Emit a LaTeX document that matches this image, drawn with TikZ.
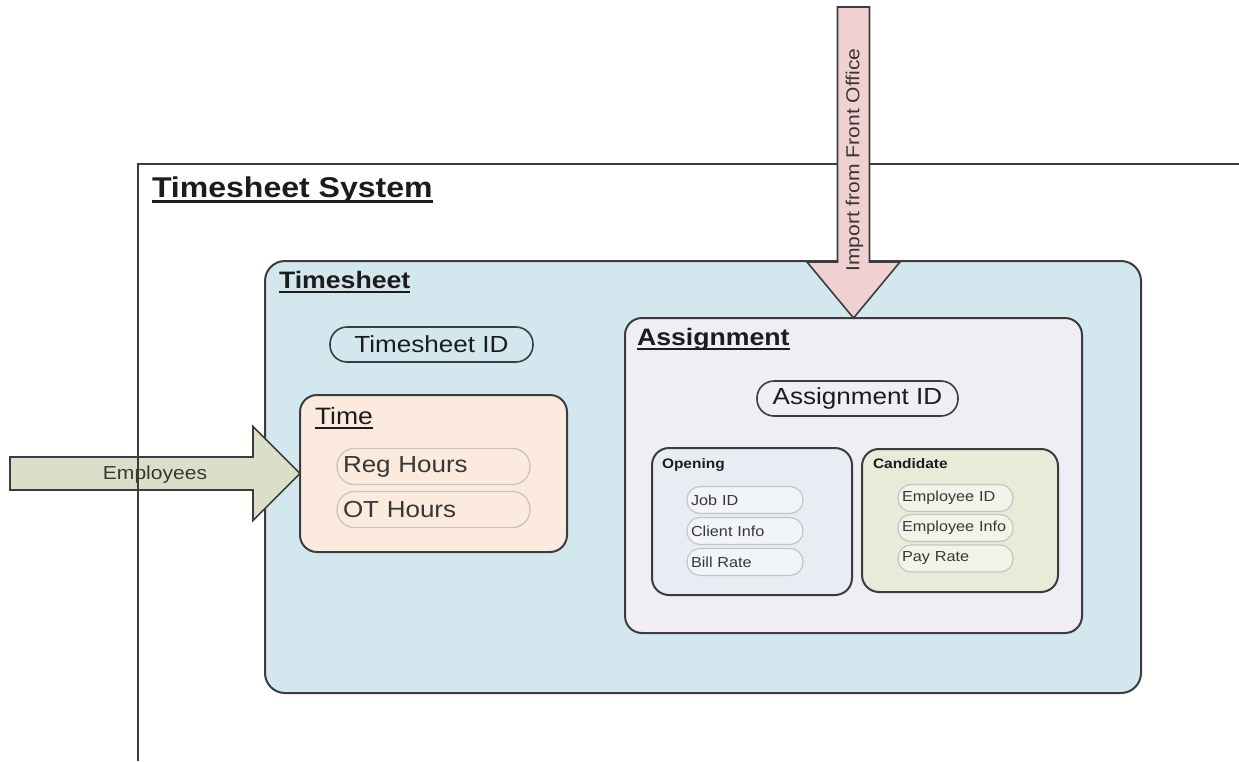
\documentclass[tikz,border=0pt]{standalone}
\usepackage{fontspec}
\setmainfont{Liberation Sans}[FakeStretch=1.12]
\usetikzlibrary{calc}

\definecolor{edge}{RGB}{58,60,62}
\definecolor{ink}{RGB}{28,28,28}
\definecolor{softink}{RGB}{55,55,55}
\definecolor{tsfill}{RGB}{210,232,238}
\definecolor{timefill}{RGB}{253,234,222}
\definecolor{assignfill}{RGB}{240,238,244}
\definecolor{openfill}{RGB}{232,237,244}
\definecolor{candfill}{RGB}{231,236,216}
\definecolor{pillline}{RGB}{200,196,194}
\definecolor{empfill}{RGB}{220,223,200}
\definecolor{impfill}{RGB}{240,208,208}

\newcommand\fs[1]{\fontsize{#1}{#1}\selectfont}
% underlined heading: #1 rule depth, #2 rule thickness, #3 text
\newcommand\ulbar[3]{\setbox0=\hbox{#3}\rlap{\rule[-#1]{\wd0}{#2}}\box0}

\tikzset{
  container/.style={draw=edge, line width=2pt, rounded corners=20pt,
    inner sep=0pt, outer sep=0pt},
  subbox/.style={container, rounded corners=17pt},
  keypill/.style={draw=edge, line width=1.6pt, rounded corners=17pt,
    minimum height=35pt, inner sep=0pt, outer sep=0pt, text=ink, font=\fs{23.3}},
  bigfield/.style={draw=pillline, line width=1.3pt, rounded corners=17.5pt,
    minimum height=36pt, inner xsep=6pt, inner ysep=0pt, text width=181pt,
    align=left, text=softink, font=\fs{23.2}},
  smallfield/.style={draw=pillline, line width=1.2pt, rounded corners=13pt,
    minimum height=27pt, inner xsep=4pt, inner ysep=0pt, align=left,
    text=softink, font=\fs{14.5}},
  header/.style={inner sep=0pt, outer sep=0pt, anchor=base west, text=ink},
  blockarrow/.style={draw=edge, line width=1.6pt, line join=miter},
  frameline/.style={draw=edge, line width=2pt},
}

\begin{document}
\begin{tikzpicture}[x=1pt,y=-1pt]
\useasboundingbox (0,0) rectangle (1239,761);
\fill[white] (0,0) rectangle (1239,761);

% Timesheet container
\node[container, fill=tsfill, minimum width=876pt, minimum height=432pt] (timesheet) at (703,477) {};
\node[header, font=\bfseries\fs{23.8}] (tshead) at (279,288) {\ulbar{5pt}{2.5pt}{Timesheet}};
\node[keypill, minimum width=203pt] (tsid) at (431.5,344.5) {Timesheet ID};

% Time block
\node[subbox, fill=timefill, minimum width=267pt, minimum height=157pt] (time) at (433.5,473.5) {};
\node[header, font=\fs{23.7}] (timehead) at (315,424) {\ulbar{4.5pt}{2pt}{Time}};
\node[bigfield] (reg) at (433.5,466.5) {Reg Hours};
\node[bigfield] (ot) at (433.5,509.5) {OT Hours};

% Assignment block
\node[subbox, fill=assignfill, minimum width=457pt, minimum height=315pt] (assign) at (853.5,475.5) {};
\node[header, font=\bfseries\fs{23.8}] (ashead) at (637,345) {\ulbar{5pt}{2.5pt}{Assignment}};
\node[keypill, minimum width=201pt] (asid) at (857.5,398.5) {Assignment ID};

% Opening
\node[subbox, fill=openfill, minimum width=200pt, minimum height=147pt] (opening) at (752,521.5) {};
\node[header, font=\bfseries\fs{13.8}] (ophead) at (662,468) {Opening};
\node[smallfield, fill=openfill!60!white, text width=108pt] (jobid) at (745,500) {Job ID};
\node[smallfield, fill=openfill!60!white, text width=108pt] (client) at (745,531) {Client Info};
\node[smallfield, fill=openfill!60!white, text width=108pt] (bill) at (745,562) {Bill Rate};

% Candidate
\node[subbox, fill=candfill, minimum width=196pt, minimum height=143pt] (cand) at (960,520.5) {};
\node[header, font=\bfseries\fs{13.8}] (cahead) at (873,468) {Candidate};
\node[smallfield, fill=candfill!60!white, text width=107pt] (empid) at (955.5,498) {Employee ID};
\node[smallfield, fill=candfill!60!white, text width=107pt] (empinfo) at (955.5,528) {Employee Info};
\node[smallfield, fill=candfill!60!white, text width=107pt] (pay) at (955.5,558.5) {Pay Rate};

% Employees arrow into the Time block
\coordinate (etip) at (time.west);
\path[blockarrow, fill=empfill]
  ($(etip)+(-290,-16.5)$) -- ($(etip)+(-47,-16.5)$) -- ($(etip)+(-47,-47)$)
  -- (etip) -- ($(etip)+(-47,47)$) -- ($(etip)+(-47,16.5)$)
  -- ($(etip)+(-290,16.5)$) -- cycle;
\node[inner sep=0pt, text=softink, font=\fs{18.8}] (emplabel) at ($(etip)+(-145,1)$) {Employees};

% System frame
\draw[frameline] (138,761) -- (138,164) -- (1239,164);
\node[header, font=\bfseries\fs{28.6}] (syshead) at (152,197) {\ulbar{6pt}{3pt}{Timesheet System}};

% Import arrow into the Assignment block
\coordinate (itip) at (assign.north);
\path[blockarrow, fill=impfill]
  ($(itip)+(-16,-311)$) -- ($(itip)+(-16,-56)$) -- ($(itip)+(-46.5,-56)$)
  -- (itip) -- ($(itip)+(46.5,-56)$) -- ($(itip)+(16,-56)$)
  -- ($(itip)+(16,-311)$) -- cycle;
\node[inner sep=0pt, rotate=90, text=softink, font=\fs{18.8}] (implabel) at ($(itip)+(1,-158)$) {Import from Front Office};
\end{tikzpicture}
\end{document}
